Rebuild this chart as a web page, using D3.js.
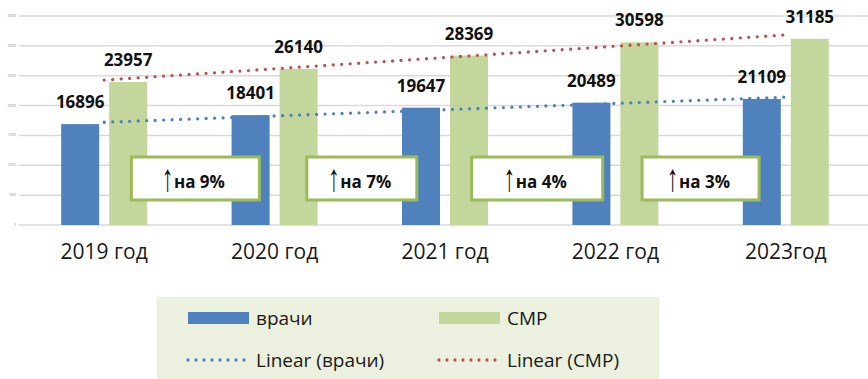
<!DOCTYPE html>
<html lang="ru">
<head>
<meta charset="utf-8">
<title>врачи / СМР</title>
<script src="https://d3js.org/d3.v7.min.js"></script>
<style>
    body { margin: 0; background: #fff; }
    svg { display: block; font-family: "Open Sans", "DejaVu Sans", sans-serif; }
    .grid line { stroke: #d9d9d9; stroke-width: 1.5; }
    .tick-lbl { font-size: 3px; fill: #8c8c8c; text-anchor: end; }
    .val-lbl { font-size: 17px; font-weight: bold; fill: #111; text-anchor: middle; }
    .cat-lbl { font-size: 21px; fill: #1a1a1a; text-anchor: middle; }
    .note text { font-size: 17px; font-weight: bold; fill: #111; text-anchor: middle; }
    .note text.arrow { font-family: "Liberation Sans", sans-serif; font-weight: normal; font-size: 24px; }
    .legend text { font-size: 19px; fill: #1a1a1a; }
</style>
</head>
<body>
<script>

// data
const years = ["2019 год", "2020 год", "2021 год", "2022 год", "2023год"];
const doctors = [16896, 18401, 19647, 20489, 21109];   // врачи
const nurses  = [23957, 26140, 28369, 30598, 31185];   // СМР
const yTicks = [0, 5000, 10000, 15000, 20000, 25000, 30000, 35000];
const notes = ["на 9%", "на 7%", "на 4%", "на 3%"];

// layout for the note boxes (width, shift from the category boundary)
const noteW = [128, 110, 131, 117];
const noteDx = [6, 2, 7, 0];

const W = 868, H = 379;
const plot = { left: 19, right: 871, top: 16, bottom: 225 };

const blue = "#4f81bd", green = "#c3d69b", red = "#c0504d", frame = "#9bbb59";

let svg = d3.select("body").append("svg")
    .attr("width", W)
    .attr("height", H);

let x = d3.scaleBand()
    .domain(years)
    .range([plot.left, plot.right]);

let xSub = d3.scaleBand()
    .domain(["врачи", "СМР"])
    .range([-43, 43])
    .paddingInner(0.208);

let y = d3.scaleLinear()
    .domain([0, 35000])
    .range([plot.bottom, plot.top]);

// grid + tiny tick labels
let grid = svg.append("g").attr("class", "grid");
grid.selectAll("line")
    .data(yTicks)
    .enter()
    .append("line")
    .attr("x1", plot.left)
    .attr("x2", W)
    .attr("y1", d => y(d))
    .attr("y2", d => y(d));

svg.selectAll("text.tick-lbl")
    .data(yTicks)
    .enter()
    .append("text")
    .attr("class", "tick-lbl")
    .attr("x", 16)
    .attr("y", d => y(d) + 1)
    .text(d => d);

// bars
const series = [
    { key: "врачи", values: doctors, color: blue },
    { key: "СМР", values: nurses, color: green }
];

series.forEach(s => {
    let g = svg.append("g");
    g.selectAll("rect")
        .data(s.values)
        .enter()
        .append("rect")
        .attr("x", (d, i) => x(years[i]) + x.bandwidth() / 2 + xSub(s.key))
        .attr("y", d => y(d))
        .attr("width", xSub.bandwidth())
        .attr("height", d => plot.bottom - y(d))
        .attr("fill", s.color);
});

// linear trendlines (least squares over category index)
function linFit(vals) {
    let n = vals.length;
    let xs = d3.range(1, n + 1);
    let mx = d3.mean(xs), my = d3.mean(vals);
    let num = d3.sum(xs, (xi, i) => (xi - mx) * (vals[i] - my));
    let den = d3.sum(xs, xi => (xi - mx) * (xi - mx));
    let b = num / den;
    return xi => my + b * (xi - mx);
}

function trend(vals, color) {
    let f = linFit(vals);
    let cx = i => x(years[i]) + x.bandwidth() / 2;
    svg.append("line")
        .attr("x1", cx(0))
        .attr("y1", y(f(1)))
        .attr("x2", cx(vals.length - 1))
        .attr("y2", y(f(vals.length)))
        .attr("stroke", color)
        .attr("stroke-width", 3.3)
        .attr("stroke-linecap", "round")
        .attr("stroke-dasharray", "0 8.5");
}
trend(doctors, blue);
trend(nurses, red);

// value labels
series.forEach(s => {
    svg.append("g").selectAll("text")
        .data(s.values)
        .enter()
        .append("text")
        .attr("class", "val-lbl")
        .attr("x", (d, i) => x(years[i]) + x.bandwidth() / 2 + xSub(s.key) + xSub.bandwidth() / 2)
        .attr("y", d => y(d) - 16)
        .text(d => d);
});

// category labels
svg.selectAll("text.cat-lbl")
    .data(years)
    .enter()
    .append("text")
    .attr("class", "cat-lbl")
    .attr("x", d => x(d) + x.bandwidth() / 2)
    .attr("y", 259)
    .text(d => d);

// growth notes
let note = svg.selectAll("g.note")
    .data(notes)
    .enter()
    .append("g")
    .attr("class", "note")
    .attr("transform", (d, i) => "translate(" + (x(years[i + 1]) + noteDx[i]) + ",178.5)");

note.append("rect")
    .attr("x", (d, i) => -noteW[i] / 2)
    .attr("y", -21.5)
    .attr("width", (d, i) => noteW[i])
    .attr("height", 43)
    .attr("fill", "#fff")
    .attr("stroke", frame)
    .attr("stroke-width", 3);

// tall thin arrow, stretched vertically
note.append("text")
    .attr("class", "arrow")
    .attr("transform", "translate(-28,12) scale(1,1.6)")
    .text("↑");

note.append("text")
    .attr("x", 4)
    .attr("y", 9)
    .text(d => d);

// legend
let lg = svg.append("g").attr("class", "legend");
lg.append("rect")
    .attr("x", 157)
    .attr("y", 297)
    .attr("width", 502)
    .attr("height", 82)
    .attr("fill", "#ebf1de");

const legendItems = [
    { label: "врачи", type: "bar", color: blue, col: 0, row: 0 },
    { label: "СМР", type: "bar", color: green, col: 1, row: 0 },
    { label: "Linear (врачи)", type: "dot", color: blue, col: 0, row: 1 },
    { label: "Linear (СМР)", type: "dot", color: red, col: 1, row: 1 }
];

let li = lg.selectAll("g.item")
    .data(legendItems)
    .enter()
    .append("g")
    .attr("class", "item")
    .attr("transform", d => "translate(" + (188 + d.col * 251) + "," + (318 + d.row * 42) + ")");

li.filter(d => d.type === "bar")
    .append("rect")
    .attr("x", 0)
    .attr("y", -6)
    .attr("width", 61)
    .attr("height", 12)
    .attr("fill", d => d.color);

li.filter(d => d.type === "dot")
    .append("line")
    .attr("x1", 0)
    .attr("x2", 57)
    .attr("y1", 0)
    .attr("y2", 0)
    .attr("stroke", d => d.color)
    .attr("stroke-width", 3.3)
    .attr("stroke-linecap", "round")
    .attr("stroke-dasharray", "0 8");

li.append("text")
    .attr("x", 68)
    .attr("y", 7)
    .text(d => d.label);

</script>
</body>
</html>
